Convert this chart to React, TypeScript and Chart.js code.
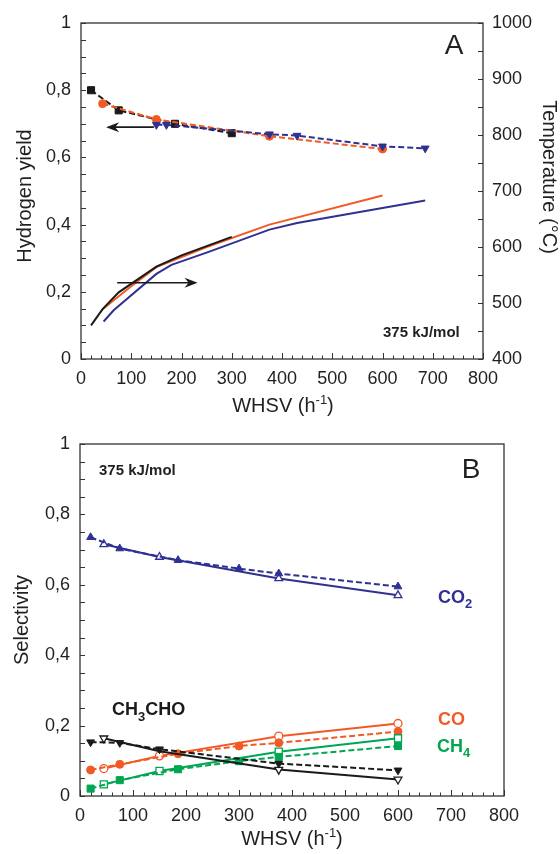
import React, { useEffect, useRef } from 'react';
import { Chart, registerables } from 'chart.js';
Chart.register(...registerables);

const FONT = '"Liberation Sans", Arial, Helvetica, sans-serif';
const BLUE = '#2E3192';
const RED = '#F15A24';
const GREEN = '#00A651';
const BLACK = '#1A1A1A';
const AXIS = '#333333';
const TXT = '#231F20';

// ---------- Panel A: hydrogen yield (left) and temperature (right) ----------
const xTicksA = [0, 100, 200, 300, 400, 500, 600, 700, 800];
const tempTicks = [400, 500, 600, 700, 800, 900, 1000];
const hyBlackX = [20, 75, 187, 300];
const hyBlackY = [0.8, 0.74, 0.7, 0.672];
const hyRedX = [43, 150, 375, 600];
const hyRedY = [0.76, 0.713, 0.663, 0.625];
const hyBlueX = [150, 170, 375, 430, 600, 685];
const hyBlueY = [0.697, 0.697, 0.669, 0.665, 0.633, 0.627];
const tBlackX = [20, 43, 75, 150, 200, 300];
const tBlackY = [460, 489, 519, 565, 585, 618];
const tRedX = [43, 100, 150, 250, 375, 600];
const tRedY = [489, 530, 564, 600, 640, 692];
const tBlueX = [45, 65, 150, 180, 250, 375, 430, 685];
const tBlueY = [467, 487, 552, 568, 590, 631, 643, 683];
// arrows (data coords, left axis)
const arrowLeftX = [145, 50];
const arrowLeftY = [0.69, 0.69];
const arrowRightX = [72, 232];
const arrowRightY = [0.227, 0.227];

// ---------- Panel B: selectivity ----------
const co2FilledX = [20, 75, 185, 300, 375, 600];
const co2FilledY = [0.735, 0.703, 0.67, 0.646, 0.632, 0.595];
const co2OpenX = [45, 150, 375, 600];
const co2OpenY = [0.715, 0.679, 0.618, 0.57];
const acFilledX = [20, 75, 150, 375, 600];
const acFilledY = [0.153, 0.151, 0.133, 0.092, 0.073];
const acOpenX = [45, 150, 375, 600];
const acOpenY = [0.164, 0.127, 0.075, 0.047];
const coFilledX = [20, 75, 185, 300, 375, 600];
const coFilledY = [0.074, 0.09, 0.12, 0.142, 0.151, 0.183];
const coOpenX = [45, 150, 375, 600];
const coOpenY = [0.078, 0.114, 0.17, 0.206];
const ch4FilledX = [20, 75, 185, 300, 375, 600];
const ch4FilledY = [0.021, 0.045, 0.076, 0.099, 0.111, 0.142];
const ch4OpenX = [45, 150, 375, 600];
const ch4OpenY = [0.033, 0.071, 0.126, 0.164];

const pts = (xs: number[], ys: number[]) => xs.map((x, i) => ({ x, y: ys[i] }));

const fmtFrac = (v: number) => {
  const r = Math.round(v * 10) / 10;
  if (Math.abs(r) < 1e-9) return '0';
  if (Math.abs(r - 1) < 1e-9) return '1';
  return r.toFixed(1).replace('.', ',');
};

type Part = { t: string; dy?: number; size?: number };
function drawRich(ctx: CanvasRenderingContext2D, parts: Part[], x: number, y: number, base: number, weight: string, color: string, align: 'left' | 'center' = 'left') {
  ctx.save();
  ctx.fillStyle = color;
  ctx.textBaseline = 'alphabetic';
  ctx.textAlign = 'left';
  let total = 0;
  for (const p of parts) {
    ctx.font = `${weight} ${p.size ?? base}px ${FONT}`;
    total += ctx.measureText(p.t).width;
  }
  let cx = align === 'center' ? x - total / 2 : x;
  for (const p of parts) {
    ctx.font = `${weight} ${p.size ?? base}px ${FONT}`;
    ctx.fillText(p.t, cx, y + (p.dy ?? 0));
    cx += ctx.measureText(p.t).width;
  }
  ctx.restore();
}

function drawRotated(ctx: CanvasRenderingContext2D, text: string, x: number, y: number, angle: number, size: number) {
  ctx.save();
  ctx.translate(x, y);
  ctx.rotate(angle);
  ctx.font = `${size}px ${FONT}`;
  ctx.fillStyle = TXT;
  ctx.textAlign = 'center';
  ctx.textBaseline = 'middle';
  ctx.fillText(text, 0, 0);
  ctx.restore();
}

function tickLine(ctx: CanvasRenderingContext2D, x1: number, y1: number, x2: number, y2: number) {
  ctx.beginPath();
  ctx.moveTo(x1, y1);
  ctx.lineTo(x2, y2);
  ctx.stroke();
}

function drawFrame(chart: any, withRight: boolean) {
  const { ctx, chartArea: a, scales } = chart;
  ctx.save();
  ctx.strokeStyle = AXIS;
  ctx.lineWidth = 1.3;
  ctx.strokeRect(a.left, a.top, a.right - a.left, a.bottom - a.top);
  ctx.lineWidth = 1;
  for (let v = 0; v <= 800; v += 20) {
    const px = Math.round(scales.x.getPixelForValue(v)) + 0.5;
    const len = v % 100 === 0 ? 6 : 3.5;
    tickLine(ctx, px, a.bottom, px, a.bottom - len);
  }
  for (let i = 0; i <= 20; i++) {
    const py = Math.round(scales.y.getPixelForValue(i * 0.05)) + 0.5;
    tickLine(ctx, a.left, py, a.left + 5, py);
  }
  if (withRight) {
    for (let v = 400; v <= 1000; v += 50) {
      const py = Math.round(scales.y2.getPixelForValue(v)) + 0.5;
      tickLine(ctx, a.right, py, a.right - 5, py);
    }
  }
  ctx.restore();
}

function drawArrow(chart: any, xs: number[], ys: number[]) {
  const { ctx, scales } = chart;
  const x1 = scales.x.getPixelForValue(xs[0]);
  const y1 = scales.y.getPixelForValue(ys[0]);
  const x2 = scales.x.getPixelForValue(xs[1]);
  const y2 = scales.y.getPixelForValue(ys[1]);
  const dir = Math.sign(x2 - x1);
  ctx.save();
  ctx.strokeStyle = BLACK;
  ctx.fillStyle = BLACK;
  ctx.lineWidth = 1.6;
  ctx.beginPath();
  ctx.moveTo(x1, y1);
  ctx.lineTo(x2 - dir * 6, y2);
  ctx.stroke();
  ctx.beginPath();
  ctx.moveTo(x2, y2);
  ctx.lineTo(x2 - dir * 13, y2 - 5);
  ctx.lineTo(x2 - dir * 9, y2);
  ctx.lineTo(x2 - dir * 13, y2 + 5);
  ctx.closePath();
  ctx.fill();
  ctx.restore();
}

const axisX = (h: number) => ({
  type: 'linear' as const,
  min: 0,
  max: 800,
  grid: { display: false, drawTicks: false },
  border: { display: false },
  ticks: { stepSize: 100, autoSkip: false, maxRotation: 0, padding: 9, color: TXT, font: { family: FONT, size: 18 }, callback: (v: any) => (xTicksA.includes(Number(v)) ? String(v) : '') },
  afterFit: (s: any) => { s.height = h; },
});

const axisY = (w: number) => ({
  type: 'linear' as const,
  position: 'left' as const,
  min: 0,
  max: 1,
  grid: { display: false, drawTicks: false },
  border: { display: false },
  ticks: { stepSize: 0.2, padding: 10, color: TXT, font: { family: FONT, size: 18 }, callback: (v: any) => fmtFrac(Number(v)) },
  afterFit: (s: any) => { s.width = w; },
});

const ds = (label: string, xs: number[], ys: number[], color: string, style: string, open: boolean, dashed: boolean, r: number, extra: any = {}) => ({
  label,
  data: pts(xs, ys),
  borderColor: color,
  backgroundColor: open ? '#ffffff' : color,
  pointBackgroundColor: open ? '#ffffff' : color,
  pointBorderColor: color,
  pointBorderWidth: open ? 1.3 : 1,
  pointStyle: style,
  pointRadius: r,
  borderWidth: 2,
  borderDash: dashed ? [6, 3] : [],
  tension: 0,
  fill: false,
  ...extra,
});

function cfgA(): any {
  return {
    type: 'line',
    data: {
      datasets: [
        ds('T black', tBlackX, tBlackY, BLACK, 'circle', false, false, 0, { yAxisID: 'y2' }),
        ds('T red', tRedX, tRedY, RED, 'circle', false, false, 0, { yAxisID: 'y2' }),
        ds('T blue', tBlueX, tBlueY, BLUE, 'circle', false, false, 0, { yAxisID: 'y2' }),
        ds('H2 blue', hyBlueX, hyBlueY, BLUE, 'triangle', false, true, 4.5, { pointRotation: 180 }),
        ds('H2 red', hyRedX, hyRedY, RED, 'circle', false, true, 4),
        ds('H2 black', hyBlackX, hyBlackY, BLACK, 'rect', false, true, 5),
      ],
    },
    options: {
      responsive: false,
      animation: false,
      devicePixelRatio: 1,
      layout: { padding: { top: 23, left: 0, right: 0, bottom: 0 } },
      plugins: { legend: { display: false }, tooltip: { enabled: false } },
      scales: {
        x: axisX(61),
        y: axisY(81),
        y2: {
          type: 'linear',
          position: 'right',
          min: 400,
          max: 1000,
          grid: { display: false, drawTicks: false },
          border: { display: false },
          ticks: { stepSize: 100, padding: 9, color: TXT, font: { family: FONT, size: 18 }, callback: (v: any) => (tempTicks.includes(Number(v)) ? String(Number(v)) : '') },
          afterFit: (s: any) => { s.width = 77; },
        },
      },
    },
    plugins: [
      {
        id: 'decorA',
        afterDraw(chart: any) {
          const { ctx } = chart;
          drawFrame(chart, true);
          drawArrow(chart, arrowLeftX, arrowLeftY);
          drawArrow(chart, arrowRightX, arrowRightY);
          drawRich(ctx, [{ t: 'A' }], 454, 54, 28, 'normal', TXT, 'center');
          drawRich(ctx, [{ t: '375 kJ/mol' }], 383, 337, 15, 'bold', TXT);
          drawRotated(ctx, 'Hydrogen yield', 25, 196, -Math.PI / 2, 20);
          drawRotated(ctx, 'Temperature (°C)', 549, 177, Math.PI / 2, 20);
          drawRich(ctx, [{ t: 'WHSV (h' }, { t: '-1', size: 13, dy: -8 }, { t: ')' }], 283, 412, 20, 'normal', TXT, 'center');
        },
      },
    ],
  };
}

function cfgB(): any {
  return {
    type: 'line',
    data: {
      datasets: [
        ds('CO2 filled', co2FilledX, co2FilledY, BLUE, 'triangle', false, true, 4.5),
        ds('CO2 open', co2OpenX, co2OpenY, BLUE, 'triangle', true, false, 4.5),
        ds('CH3CHO filled', acFilledX, acFilledY, BLACK, 'triangle', false, true, 4.5, { pointRotation: 180 }),
        ds('CH3CHO open', acOpenX, acOpenY, BLACK, 'triangle', true, false, 4.5, { pointRotation: 180, pointRadius: [4.5, 0, 4.5, 4.5] }),
        ds('CH4 filled', ch4FilledX, ch4FilledY, GREEN, 'rect', false, true, 5),
        ds('CH4 open', ch4OpenX, ch4OpenY, GREEN, 'rect', true, false, 5),
        ds('CO filled', coFilledX, coFilledY, RED, 'circle', false, true, 4),
        ds('CO open', coOpenX, coOpenY, RED, 'circle', true, false, 4),
      ],
    },
    options: {
      responsive: false,
      animation: false,
      devicePixelRatio: 1,
      layout: { padding: { top: 24, left: 0, right: 56, bottom: 0 } },
      plugins: { legend: { display: false }, tooltip: { enabled: false } },
      scales: {
        x: axisX(58),
        y: axisY(80),
      },
    },
    plugins: [
      {
        id: 'decorB',
        afterDraw(chart: any) {
          const { ctx } = chart;
          drawFrame(chart, false);
          drawRich(ctx, [{ t: 'B' }], 471, 478 - 420, 28, 'normal', TXT, 'center');
          drawRich(ctx, [{ t: '375 kJ/mol' }], 99, 475 - 420, 15, 'bold', TXT);
          drawRich(ctx, [{ t: 'CO' }, { t: '2', size: 13, dy: 5 }], 438, 603 - 420, 18, 'bold', BLUE);
          drawRich(ctx, [{ t: 'CO' }], 438, 725 - 420, 18, 'bold', RED);
          drawRich(ctx, [{ t: 'CH' }, { t: '4', size: 13, dy: 5 }], 437, 752 - 420, 18, 'bold', GREEN);
          drawRich(ctx, [{ t: 'CH' }, { t: '3', size: 13, dy: 6 }, { t: 'CHO' }], 112, 715 - 420, 18, 'bold', BLACK);
          drawRotated(ctx, 'Selectivity', 22, 620 - 420, -Math.PI / 2, 20);
          drawRich(ctx, [{ t: 'WHSV (h' }, { t: '-1', size: 13, dy: -8 }, { t: ')' }], 292, 845 - 420, 20, 'normal', TXT, 'center');
        },
      },
    ],
  };
}

export default function App() {
  const refA = useRef<HTMLCanvasElement>(null);
  const refB = useRef<HTMLCanvasElement>(null);
  useEffect(() => {
    const a = new Chart(refA.current as HTMLCanvasElement, cfgA());
    const b = new Chart(refB.current as HTMLCanvasElement, cfgB());
    return () => {
      a.destroy();
      b.destroy();
    };
  }, []);
  return (
    <div style={{ position: 'absolute', left: 0, top: 0, width: 560, height: 854, background: '#ffffff' }}>
      <canvas ref={refA} width={560} height={420} style={{ position: 'absolute', left: 0, top: 0, width: 560, height: 420 }} />
      <canvas ref={refB} width={560} height={434} style={{ position: 'absolute', left: 0, top: 420, width: 560, height: 434 }} />
    </div>
  );
}
